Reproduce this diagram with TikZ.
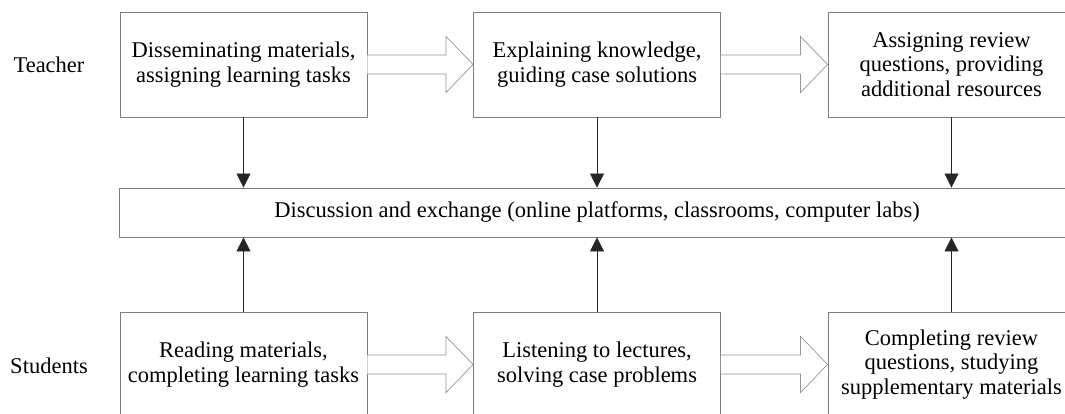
\documentclass[tikz,border=0pt]{standalone}
\usepackage{fontspec}
\setmainfont{Liberation Serif}
\usetikzlibrary{calc,arrows.meta}
\definecolor{boxgray}{RGB}{125,125,125}
\definecolor{arrgray}{RGB}{150,150,150}
\newcommand\blockarrow[2]{%
  \draw[barrow] let \p1=(#1.east), \p2=(#2.west) in
    (\x1,\y1+9.5) -- (\x2-27,\y1+9.5) -- (\x2-27,\y1+28) -- (\x2,\y1)
    -- (\x2-27,\y1-28) -- (\x2-27,\y1-9.5) -- (\x1,\y1-9.5);}
\begin{document}
\begin{tikzpicture}[x=1pt,y=-1pt,
  txt/.style={font=\fontsize{22.5}{24.5}\selectfont},
  box/.style={txt, draw=boxgray, line width=0.9pt, minimum width=247pt,
    minimum height=105pt, align=center, inner sep=0pt},
  midbox/.style={txt, draw=boxgray, line width=0.9pt, minimum width=956pt,
    minimum height=49pt, inner sep=0pt},
  label/.style={txt},
  varrow/.style={draw=black!85, line width=0.8pt, -{Triangle[length=14pt,width=14pt]}},
  barrow/.style={draw=arrgray, line width=0.7pt, fill=white}]
\useasboundingbox (0,0) rectangle (1065,414);
\clip (0,0) rectangle (1065,414);
\fill[white] (0,0) rectangle (1065,414);

\node[label] (teacher) at (49,65) {Teacher};
\node[label] (students) at (49,366) {Students};

\node[box] (t1) at (243.5,64.5) {Disseminating materials,\\assigning learning tasks};
\node[box] (t2) at (597,64.5) {Explaining knowledge,\\guiding case solutions};
\node[box] (t3) at (951.5,64.5) {Assigning review\\questions, providing\\additional resources};

\node[midbox] (mid) at (597,212.5) {Discussion and exchange (online platforms, classrooms, computer labs)};

\node[box] (s1) at (243.5,364.5) {Reading materials,\\completing learning tasks};
\node[box] (s2) at (597,364.5) {Listening to lectures,\\solving case problems};
\node[box] (s3) at (951.5,364.5) {Completing review\\questions, studying\\supplementary materials};

\blockarrow{t1}{t2}
\blockarrow{t2}{t3}
\blockarrow{s1}{s2}
\blockarrow{s2}{s3}

\draw[varrow] (t1.south) -- (t1.south |- mid.north);
\draw[varrow] (t2.south) -- (t2.south |- mid.north);
\draw[varrow] (t3.south) -- (t3.south |- mid.north);
\draw[varrow] (s1.north) -- (s1.north |- mid.south);
\draw[varrow] (s2.north) -- (s2.north |- mid.south);
\draw[varrow] (s3.north) -- (s3.north |- mid.south);
\end{tikzpicture}
\end{document}
